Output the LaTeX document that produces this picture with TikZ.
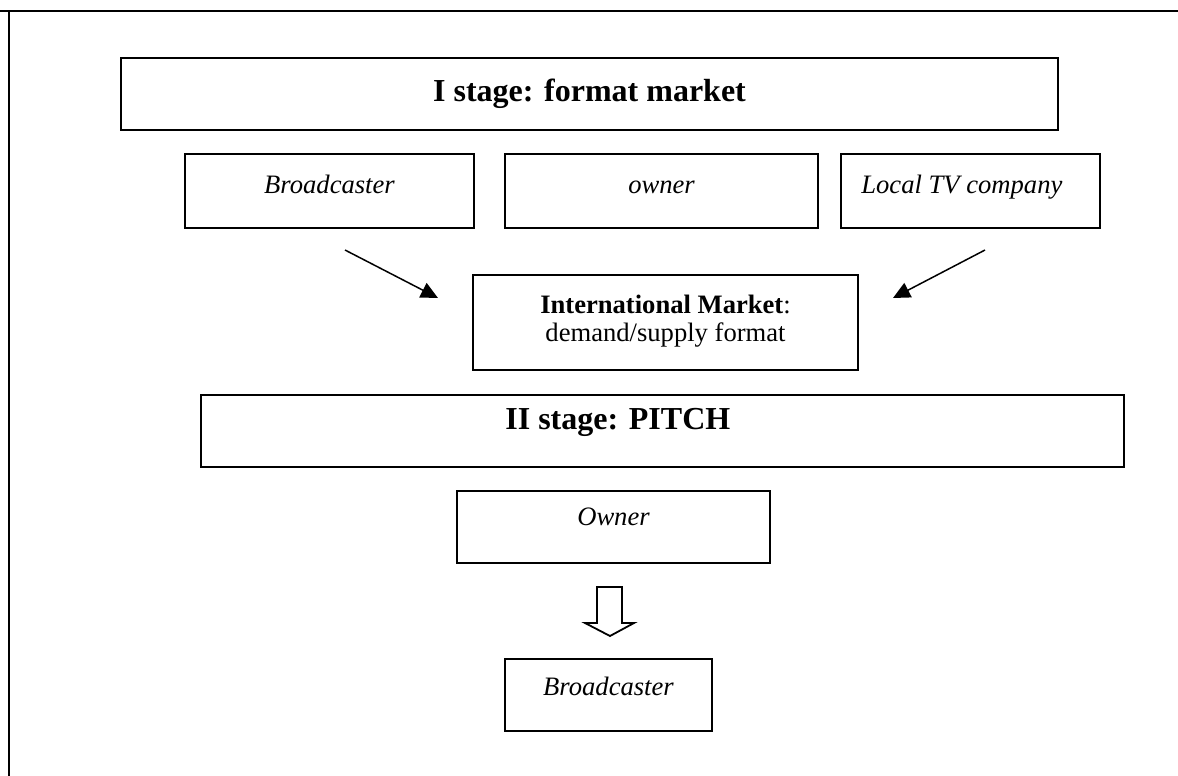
\documentclass[tikz,border=0pt]{standalone}
\usepackage{fontspec}
\setmainfont{Liberation Serif}
\usetikzlibrary{arrows.meta}
\begin{document}
\begin{tikzpicture}[x=0.5pt,y=-0.5pt,
  box/.style={draw, line width=0.9pt, inner sep=0pt},
  big/.style={font=\fontsize{16}{19}\selectfont\bfseries, inner sep=0pt},
  small/.style={font=\fontsize{13.3}{16}\selectfont, inner sep=0pt},
  ital/.style={font=\fontsize{13.3}{16}\selectfont\itshape, inner sep=0pt},
  conn/.style={line width=0.75pt, -{Triangle[length=8.5pt,width=8pt]}},
  frame/.style={line width=1pt},
  hollow/.style={line width=0.9pt, line join=miter},
]
\useasboundingbox (0,0) rectangle (1178,776);
% outer frame
\coordinate (ftl) at (9,11);
\coordinate (ftr) at (1178,11);
\coordinate (fl0) at (0,11);
\coordinate (fbl) at (9,776);
\draw[frame] (fl0) -- (ftr);
\draw[frame] (ftl) -- (fbl);

% boxes
\node[box, minimum width=468.5pt, minimum height=36pt] (s1) at (589.5,94) {};
\node[box, minimum width=144.5pt, minimum height=37pt] (bc) at (329.5,191) {};
\node[box, minimum width=156.5pt, minimum height=37pt] (ow) at (661.5,191) {};
\node[box, minimum width=129.5pt, minimum height=37pt] (tv) at (970.5,191) {};
\node[box, minimum width=192.5pt, minimum height=47.5pt] (im) at (665.5,322.5) {};
\node[box, minimum width=461.5pt, minimum height=36pt] (s2) at (662.5,431) {};
\node[box, minimum width=156.5pt, minimum height=36pt] (ow2) at (613.5,527) {};
\node[box, minimum width=103.5pt, minimum height=36pt] (bc2) at (608.5,695) {};

% texts
\node[big, anchor=base] (s1t) at (589.5,101) {I stage: format market};
\node[ital, anchor=base] (bct) at (329.5,193) {Broadcaster};
\node[ital, anchor=base] (owt) at (661.5,193) {owner};
\node[ital, anchor=base west] (tvt) at (861,193) {Local TV company};
\node[small, anchor=base] (imt1) at (665.5,313) {\textbf{International Market}:};
\node[small, anchor=base] (imt2) at (665.5,341) {demand/supply format};
\node[big, anchor=base west] (s2t) at (505,429) {II stage: PITCH};
\node[ital, anchor=base] (ow2t) at (613.5,525) {Owner};
\node[ital, anchor=base] (bc2t) at (608.5,695) {Broadcaster};

% arrows
\coordinate (la) at (345,250);
\coordinate (lb) at (438,298);
\coordinate (ra) at (985,250);
\coordinate (rb) at (893,298);
\draw[conn] (la) -- (lb);
\draw[conn] (ra) -- (rb);

% hollow block arrow
\draw[hollow] (597,587) -- (622,587) -- (622,623) -- (634,623) -- (610,636)
  -- (585,623) -- (597,623) -- cycle;
\end{tikzpicture}
\end{document}
